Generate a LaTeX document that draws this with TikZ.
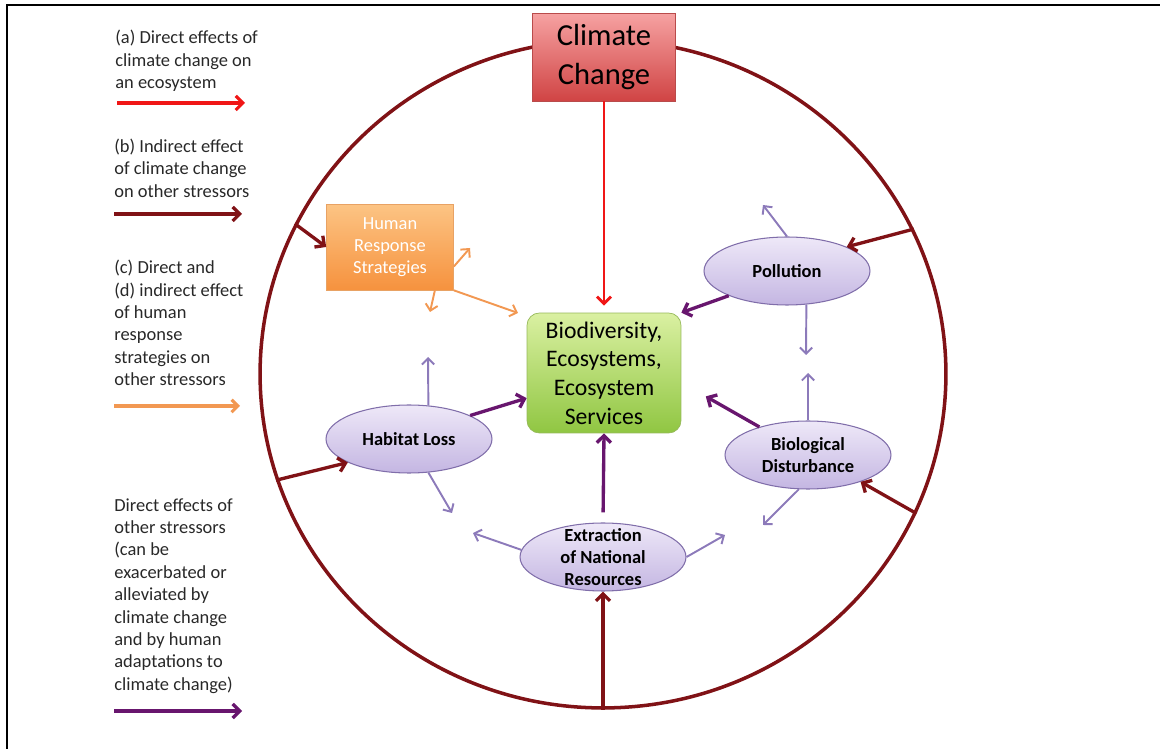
\documentclass[tikz,border=0pt]{standalone}
\usepackage{fontspec}
\setmainfont{Carlito}
\usetikzlibrary{arrows.meta,shapes.geometric}
\definecolor{ringred}{RGB}{128,18,22}
\definecolor{climred}{RGB}{240,22,22}
\definecolor{humorange}{RGB}{242,152,82}
\definecolor{strpurple}{RGB}{104,22,110}
\definecolor{sidepurple}{RGB}{140,122,186}
\definecolor{legendgray}{RGB}{40,40,40}
\begin{document}
\begin{tikzpicture}[x=0.02cm,y=-0.02cm,
    ring/.style = {ellipse, draw=ringred, line width=2pt, inner sep=0pt, minimum width=13.72cm, minimum height=13.36cm},
    stressor/.style = {ellipse, draw={rgb,255:red,128;green,110;blue,170}, line width=0.6pt, top color={rgb,255:red,238;green,232;blue,248}, bottom color={rgb,255:red,196;green,182;blue,226}, minimum width=3.32cm, minimum height=1.36cm, inner sep=0pt},
    stxt/.style = {align=center, font=\fontsize{10.5}{12.75}\selectfont\bfseries, text=black},
    legend/.style = {align=left, anchor=west, inner sep=0pt, font=\fontsize{10.5}{12.75}\selectfont, text=legendgray},
    climarrow/.style = {-{Straight Barb[length=4pt,width=8pt]}, climred, line width=1.6pt},
    indarrow/.style = {-{Straight Barb[length=4pt,width=8pt]}, ringred, line width=1.9pt},
    humarrow/.style = {-{Straight Barb[length=3.5pt,width=7pt]}, humorange, line width=1.1pt},
    strarrow/.style = {-{Straight Barb[length=4pt,width=8pt]}, strpurple, line width=1.9pt},
    sidearrow/.style = {-{Straight Barb[length=3.5pt,width=7pt]}, sidepurple, line width=1.1pt}]
    \useasboundingbox (0,0) rectangle (1160,749);
    \draw[line width=1.2pt] (7,749) -- (7,5) -- (1160,5);
    \node[legend] (lega) at (115,61) {(a) Direct effects of\\climate change on\\an ecosystem};
    \node[legend] (legb) at (114,168) {(b) Indirect effect\\of climate change\\on other stressors};
    \node[legend] (legc) at (114,323) {(c) Direct and\\(d) indirect effect\\of human\\response\\strategies on\\other stressors};
    \node[legend] (legd) at (114,596) {Direct effects of\\other stressors\\(can be\\exacerbated or\\alleviated by\\climate change\\and by human\\adaptations to\\climate change)};
    \coordinate (la1) at (117,103); \coordinate (la2) at (245,103);
    \coordinate (lb1) at (114,214); \coordinate (lb2) at (242,214);
    \coordinate (lc1) at (114,406); \coordinate (lc2) at (240,406);
    \coordinate (ld1) at (114,711); \coordinate (ld2) at (242,711);
    \draw[climarrow, line width=1.8pt] (la1) -- (la2);
    \draw[indarrow] (lb1) -- (lb2);
    \draw[humarrow, line width=1.8pt] (lc1) -- (lc2);
    \draw[strarrow] (ld1) -- (ld2);
    \node[ring] (ring) at (603,374) {};
    \node[rectangle, draw={rgb,255:red,185;green,75;blue,75}, top color={rgb,255:red,246;green,162;blue,162}, bottom color={rgb,255:red,208;green,68;blue,68}, minimum width=2.86cm, minimum height=1.76cm, align=center, font=\fontsize{17.4}{22}\selectfont] (clim) at (604,57) {Climate\\Change};
    \node[rectangle, rounded corners=7pt, draw={rgb,255:red,150;green,185;blue,90}, top color={rgb,255:red,218;green,240;blue,162}, bottom color={rgb,255:red,144;green,198;blue,66}, minimum width=3.08cm, minimum height=2.4cm, align=center, font=\fontsize{13.5}{16.3}\selectfont] (bio) at (604,373) {Biodiversity,\\Ecosystems,\\Ecosystem\\Services};
    \node[rectangle, draw={rgb,255:red,232;green,162;blue,100}, top color={rgb,255:red,252;green,196;blue,132}, bottom color={rgb,255:red,246;green,146;blue,62}, minimum width=2.54cm, minimum height=1.72cm, align=center, text=white, font=\fontsize{10.5}{12.5}\selectfont] (hrs) at (390,247) {Human\\Response\\Strategies};
    \node[stressor, label={[stxt]center:Pollution}] (pol) at (787,271) {};
    \node[stressor, label={[stxt]center:{Biological\\Disturbance}}] (bd) at (808,455) {};
    \node[stressor, label={[stxt]center:Habitat Loss}] (hab) at (409,439) {};
    \node[stressor, label={[stxt]center:{Extraction\\of National\\Resources}}] (ext) at (603,557) {};
    \draw[climarrow, shorten >=4pt] (clim.south) -- (bio.north);
    \draw[indarrow] (ring.154) -- (hrs.west);
    \draw[indarrow] (ring.25) -- (pol.22);
    \draw[indarrow] (ring.-24) -- (bd.-27);
    \draw[indarrow] (ring.198) -- (hab.201);
    \draw[indarrow] (ring.south) -- (ext.south);
    \draw[strarrow] (hab.21) -- (bio.198);
    \draw[strarrow] (pol.203) -- (bio.north east);
    \draw[strarrow, shorten >=16pt] (bd.150) -- (bio.-7);
    \draw[strarrow, shorten <=5.7pt] (ext.north) -- (bio.south);
    \coordinate (polup) at (763,205);
    \coordinate (poldown) at (806,355);
    \coordinate (bdup) at (808,373);
    \coordinate (bddown) at (763,525);
    \coordinate (habup) at (428,357);
    \coordinate (habdown) at (452,513);
    \coordinate (extleft) at (473,533);
    \coordinate (extright) at (725,535);
    \draw[sidearrow] (pol.north) -- (polup);
    \draw[sidearrow] (pol.-60) -- (poldown);
    \draw[sidearrow] (bd.north) -- (bdup);
    \draw[sidearrow] (bd.-105) -- (bddown);
    \draw[sidearrow] (hab.60) -- (habup);
    \draw[sidearrow] (hab.-60) -- (habdown);
    \draw[sidearrow] (ext.175) -- (extleft);
    \draw[sidearrow] (ext.east) -- (extright);
    \coordinate (hrsup) at (470,248);
    \coordinate (hrsdown) at (430,312);
    \coordinate (hrsright) at (518,313);
    \draw[humarrow] (hrs.-17) -- (hrsup);
    \draw[humarrow] (hrs.-44) -- (hrsdown);
    \draw[humarrow] (hrs.south east) -- (hrsright);
\end{tikzpicture}
\end{document}
